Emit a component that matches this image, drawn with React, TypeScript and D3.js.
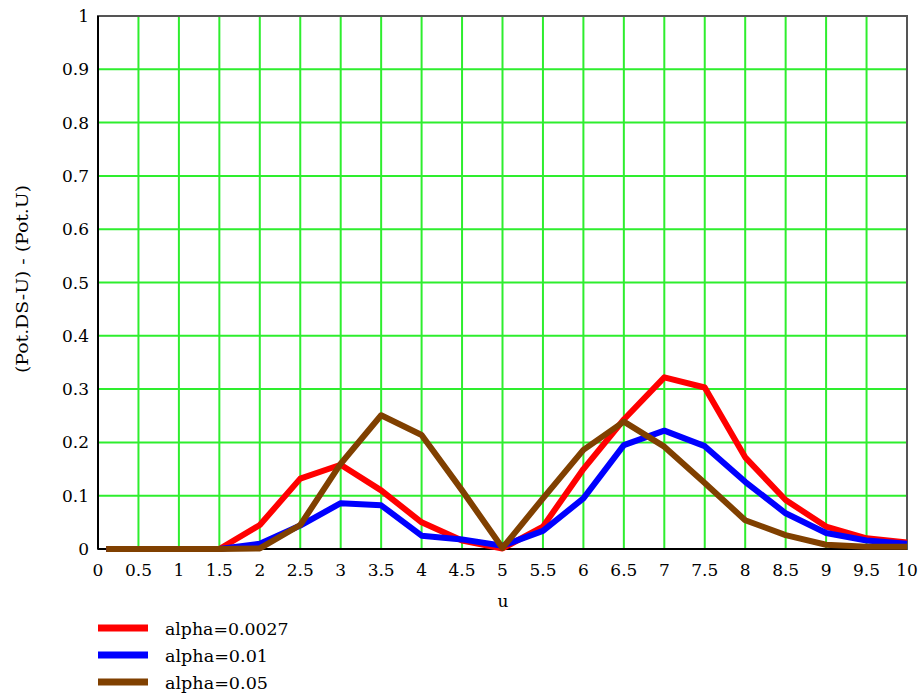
import React from "react";
import * as d3 from "d3";

const uValues = [0.1, 0.5, 1, 1.5, 2, 2.5, 3, 3.5, 4, 4.5, 5, 5.5, 6, 6.5, 7, 7.5, 8, 8.5, 9, 9.5, 10];
const alpha0027 = [0, 0, 0, 0, 0.045, 0.132, 0.158, 0.11, 0.05, 0.016, 0.001, 0.042, 0.15, 0.243, 0.322, 0.303, 0.172, 0.092, 0.042, 0.02, 0.012];
const alpha001 = [0, 0, 0, 0, 0.01, 0.044, 0.086, 0.082, 0.025, 0.018, 0.006, 0.034, 0.095, 0.195, 0.222, 0.193, 0.126, 0.067, 0.03, 0.016, 0.01];
const alpha005 = [0, 0, 0, 0, 0.001, 0.045, 0.16, 0.251, 0.214, 0.11, 0.002, 0.095, 0.186, 0.239, 0.192, 0.124, 0.054, 0.026, 0.008, 0.004, 0.004];

const xTicks = d3.range(0, 10.01, 0.5);
const yTicks = d3.range(0, 1.001, 0.1);

const seriesNames = ["alpha=0.0027", "alpha=0.01", "alpha=0.05"];
const seriesColors = ["#ff0000", "#0000ff", "#804000"];
const seriesValues = [alpha0027, alpha001, alpha005];

const W = 923;
const H = 700;
const left = 98;
const right = 907;
const top = 16;
const bottom = 549;

const fmt = (v: number) => String(Math.round(v * 10) / 10);

export default function App() {
  const x = d3.scaleLinear().domain([0, 10]).range([left, right]);
  const y = d3.scaleLinear().domain([0, 1]).range([bottom, top]);
  const line = d3
    .line<number>()
    .x((_, i) => x(uValues[i]))
    .y((d) => y(d));

  const font = "'DejaVu Serif', serif";
  const fs = 17;

  return (
    <svg
      width={W}
      height={H}
      style={{ position: "absolute", left: 0, top: 0, background: "#fff" }}
    >
      {/* grid */}
      {xTicks.map((t) =>
        t > 0 && t < 10 ? (
          <line key={"gx" + t} x1={x(t)} x2={x(t)} y1={top} y2={bottom} stroke="#2eee2e" strokeWidth={2} />
        ) : null
      )}
      {yTicks.map((t) =>
        t > 0.001 && t < 0.999 ? (
          <line key={"gy" + t} x1={left} x2={right} y1={y(t)} y2={y(t)} stroke="#2eee2e" strokeWidth={2} />
        ) : null
      )}

      {/* frame */}
      <rect x={left} y={top} width={right - left} height={bottom - top} fill="none" stroke="#555" strokeWidth={2} />
      <line x1={left} x2={right} y1={bottom} y2={bottom} stroke="#000" strokeWidth={2} />
      <line x1={left} x2={left} y1={top} y2={bottom} stroke="#000" strokeWidth={2} />

      {/* series */}
      {seriesValues.map((vals, i) => (
        <path
          key={"s" + i}
          d={line(vals) || ""}
          fill="none"
          stroke={seriesColors[i]}
          strokeWidth={6}
          strokeLinejoin="round"
        />
      ))}

      {/* x tick labels */}
      {xTicks.map((t) => (
        <text key={"xl" + t} x={x(t)} y={576} textAnchor="middle" fontFamily={font} fontSize={fs} fill="#000">
          {fmt(t)}
        </text>
      ))}
      {/* y tick labels */}
      {yTicks.map((t) => (
        <text key={"yl" + t} x={89} y={y(t) + 6} textAnchor="end" fontFamily={font} fontSize={fs} fill="#000">
          {fmt(t)}
        </text>
      ))}

      {/* axis titles */}
      <text x={503} y={607} textAnchor="middle" fontFamily={font} fontSize={fs} fill="#000">
        u
      </text>
      <text
        transform={`translate(28, 279) rotate(-90)`}
        textAnchor="middle"
        fontFamily={font}
        fontSize={fs}
        fill="#000"
        textLength={188}
        lengthAdjust="spacingAndGlyphs"
      >
        (Pot.DS-U) - (Pot.U)
      </text>

      {/* legend */}
      {seriesNames.map((name, i) => {
        const ly = 628 + i * 27;
        return (
          <g key={"lg" + i}>
            <line x1={98} x2={148} y1={ly} y2={ly} stroke={seriesColors[i]} strokeWidth={7} />
            <text
              x={165}
              y={ly + 7}
              fontFamily={font}
              fontSize={fs}
              fill="#000"
              textLength={name.length * 10.3}
              lengthAdjust="spacingAndGlyphs"
            >
              {name}
            </text>
          </g>
        );
      })}
    </svg>
  );
}
